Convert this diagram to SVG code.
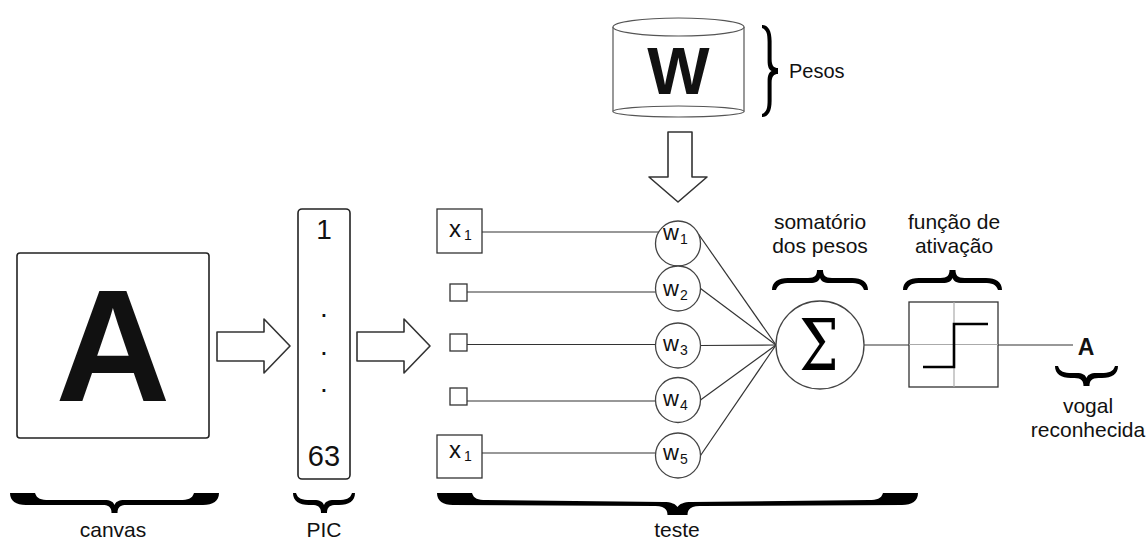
<svg xmlns="http://www.w3.org/2000/svg" width="1148" height="541" viewBox="0 0 1148 541">
<style>
text{font-family:"Liberation Sans",Arial,sans-serif;fill:#111}
.lbl{font-size:21px;text-anchor:middle}
.box{fill:#fff;stroke:#222;stroke-width:1.6}
.sq{fill:#fff;stroke:#333;stroke-width:1.3}
.neu{fill:#fff;stroke:#444;stroke-width:1.3}
.ln{fill:none;stroke:#333;stroke-width:1.2}
.arw{fill:#fff;stroke:#333;stroke-width:1.6;stroke-linejoin:round}
.brace{fill:#000}
.w{font-size:22px}
.sub{font-size:14px}
.sigma{font-family:"DejaVu Serif","Liberation Serif",serif;font-size:68px;text-anchor:middle;fill:#000}
</style>
<rect width="1148" height="541" fill="#fff"/>

<g id="connectors">
  <line class="ln" x1="482" y1="232" x2="658.7" y2="232"/>
  <line class="ln" x1="467" y1="292" x2="655.8" y2="292"/>
  <line class="ln" x1="467" y1="344.5" x2="655.5" y2="344.5"/>
  <line class="ln" x1="467" y1="401" x2="655.5" y2="401"/>
  <line class="ln" x1="482" y1="453" x2="655.6" y2="453"/>
  <line class="ln" x1="698.4" y1="234" x2="776" y2="345" stroke="#555"/>
  <line class="ln" x1="700.5" y1="288.5" x2="776" y2="345"/>
  <line class="ln" x1="700.5" y1="345.5" x2="776" y2="345"/>
  <line class="ln" x1="700.5" y1="400" x2="776" y2="345"/>
  <line class="ln" x1="700.5" y1="455.5" x2="776" y2="345"/>
  <line class="ln" x1="864" y1="345" x2="909" y2="345"/>
  <line class="ln" x1="998" y1="345" x2="1073" y2="345"/>
  <polygon class="arw" points="217,332 264,332 264,319 290,346 264,373 264,361 217,361"/>
  <polygon class="arw" points="357,332 404,332 404,319 430,346 404,373 404,361 357,361"/>
  <polygon class="arw" points="668,132 692,132 692,177 707,177 678,202 649,177 668,177"/>
</g>

<g id="canvas">
  <rect class="box" x="17" y="253" width="192" height="185" rx="3"/>
  <text x="113" y="401" font-size="159" font-weight="bold" text-anchor="middle" fill="#000">A</text>
</g>

<g id="pic">
  <rect class="box" x="298" y="209" width="52" height="270" rx="4"/>
  <text x="324" y="239" font-size="28" text-anchor="middle">1</text>
  <text x="324" y="317" font-size="28" text-anchor="middle">.</text>
  <text x="324" y="355" font-size="28" text-anchor="middle">.</text>
  <text x="324" y="392" font-size="28" text-anchor="middle">.</text>
  <text x="324" y="466" font-size="29" text-anchor="middle">63</text>
</g>

<g id="pesos-db">
  <path d="M613,27 L613,111.5 M744,27 L744,111.5" fill="none" stroke="#555" stroke-width="1.2"/>
  <ellipse cx="678.5" cy="27" rx="65.5" ry="9" fill="#fff" stroke="#555" stroke-width="1.2"/>
  <ellipse cx="678.5" cy="111.5" rx="65.5" ry="5.5" fill="#fff" stroke="#555" stroke-width="1.2"/>
  <text x="678.5" y="94" font-size="66" font-weight="bold" text-anchor="middle" fill="#000">W</text>
</g>

<g id="input1">
  <rect class="sq" x="437" y="209" width="45" height="44"/>
  <text x="449" y="237" font-size="24">x<tspan class="sub" dx="3" dy="3">1</tspan></text>
</g>
<g id="input2"><rect class="sq" x="450" y="284" width="17" height="17"/></g>
<g id="input3"><rect class="sq" x="450" y="334" width="17" height="17"/></g>
<g id="input4"><rect class="sq" x="450" y="388" width="17" height="17"/></g>
<g id="input5">
  <rect class="sq" x="437" y="435" width="45" height="43"/>
  <text x="449" y="458" font-size="24">x<tspan class="sub" dx="3" dy="3">1</tspan></text>
</g>

<g id="w1"><circle class="neu" cx="678" cy="243.5" r="22.5"/><text class="w" x="663" y="240">w<tspan class="sub" dx="1" dy="4">1</tspan></text></g>
<g id="w2"><circle class="neu" cx="678" cy="288.5" r="22.5"/><text class="w" x="663" y="296">w<tspan class="sub" dx="1" dy="4">2</tspan></text></g>
<g id="w3"><circle class="neu" cx="678" cy="345.5" r="22.5"/><text class="w" x="663" y="351">w<tspan class="sub" dx="1" dy="4">3</tspan></text></g>
<g id="w4"><circle class="neu" cx="678" cy="400" r="22.5"/><text class="w" x="663" y="406">w<tspan class="sub" dx="1" dy="4">4</tspan></text></g>
<g id="w5"><circle class="neu" cx="678" cy="455.5" r="22.5"/><text class="w" x="663" y="460">w<tspan class="sub" dx="1" dy="4">5</tspan></text></g>

<g id="sum">
  <circle class="neu" cx="820" cy="345" r="44"/>
  <text class="sigma" transform="translate(819,370) scale(0.82,1.05)" x="0" y="0">Σ</text>
</g>

<g id="activation">
  <rect x="909" y="302" width="89" height="85" fill="#fff" stroke="#333" stroke-width="1.3"/>
  <line x1="954" y1="302" x2="954" y2="387" stroke="#aaa" stroke-width="1.2"/>
  <line x1="909" y1="344.5" x2="998" y2="344.5" stroke="#aaa" stroke-width="1.2"/>
  <polyline points="923,367 954,367 954,324 988,324" fill="none" stroke="#000" stroke-width="2.6"/>
</g>

<g id="output">
  <text x="1086" y="355" font-size="23" font-weight="bold" text-anchor="middle" fill="#000">A</text>
</g>

<g id="braces">
  <path class="brace" transform="translate(10,493)" d="M0,0 L25,0 C27,6 31,7 39,7 L94.5,7 C100.5,7 103.5,9 104.5,12 C105.5,9 108.5,7 114.5,7 L170,7 C178,7 182,6 184,0 L209,0 C209,8 203,12 193,12 L116.5,12 C109.5,12 107.5,15 107.5,20 L101.5,20 C101.5,15 99.5,12 92.5,12 L16,12 C6,12 0,8 0,0 Z"/>
  <path class="brace" transform="translate(293,493)" d="M0,0 L3,0 C5,6 9,7 17,7 L21,7 C27,7 30,9 31,12 C32,9 35,7 41,7 L45,7 C53,7 57,6 59,0 L62,0 C62,8 56,12 46,12 L43,12 C36,12 34,15 34,20 L28,20 C28,15 26,12 19,12 L16,12 C6,12 0,8 0,0 Z"/>
  <path class="brace" transform="translate(437,493)" d="M0,0 L35,0 C37,6 41,7 49,7 L226.5,9 C234.5,9 238.5,11 240.5,14 C242.5,11 246.5,9 254.5,9 L432,7 C440,7 444,6 446,0 L481,0 C481,8 475,12 465,12 L262.5,13 C254.5,13 250.5,16 250.5,22 L230.5,22 C230.5,16 226.5,13 218.5,13 L16,12 C6,12 0,8 0,0 Z"/>
  <path class="brace" transform="translate(1055,366)" d="M0,0 L3,0 C5,6 9,7 17,7 L21.5,7 C27.5,7 30.5,9 31.5,12 C32.5,9 35.5,7 41.5,7 L46,7 C54,7 58,6 60,0 L63,0 C63,8 57,12 47,12 L43.5,12 C36.5,12 34.5,15 34.5,20 L28.5,20 C28.5,15 26.5,12 19.5,12 L16,12 C6,12 0,8 0,0 Z"/>
  <path class="brace" transform="translate(772,290) scale(1,-1)" d="M0,0 L4,0 C6,6 10,7 18,7 L38,7 C44,7 47,9 48,12 C49,9 52,7 58,7 L78,7 C86,7 90,6 92,0 L96,0 C96,8 90,12 80,12 L60,12 C53,12 51,15 51,20 L45,20 C45,15 43,12 36,12 L16,12 C6,12 0,8 0,0 Z"/>
  <path class="brace" transform="translate(903,290) scale(1,-1)" d="M0,0 L4,0 C6,6 10,7 18,7 L39.5,7 C45.5,7 48.5,9 49.5,12 C50.5,9 53.5,7 59.5,7 L81,7 C89,7 93,6 95,0 L99,0 C99,8 93,12 83,12 L61.5,12 C54.5,12 52.5,15 52.5,20 L46.5,20 C46.5,15 44.5,12 37.5,12 L16,12 C6,12 0,8 0,0 Z"/>
  <path class="brace" transform="matrix(0 1 0.8 0 762 25)" d="M0,0 L3,0 C5,6 9,7 17,7 L36,7 C42,7 45,9 46,12 C47,9 50,7 56,7 L75,7 C83,7 87,6 89,0 L92,0 C92,8 86,12 76,12 L58,12 C51,12 49,15 49,20 L43,20 C43,15 41,12 34,12 L16,12 C6,12 0,8 0,0 Z"/>
</g>

<g id="labels">
  <text x="789" y="78" font-size="20">Pesos</text>
  <text class="lbl" x="820" y="229">somatório</text>
  <text class="lbl" x="820" y="253">dos pesos</text>
  <text class="lbl" x="954" y="229">função de</text>
  <text class="lbl" x="954" y="253">ativação</text>
  <text class="lbl" x="1088" y="413">vogal</text>
  <text class="lbl" x="1088" y="437">reconhecida</text>
  <text class="lbl" x="113" y="537">canvas</text>
  <text class="lbl" x="324" y="537">PIC</text>
  <text class="lbl" x="677" y="537">teste</text>
</g>
</svg>
